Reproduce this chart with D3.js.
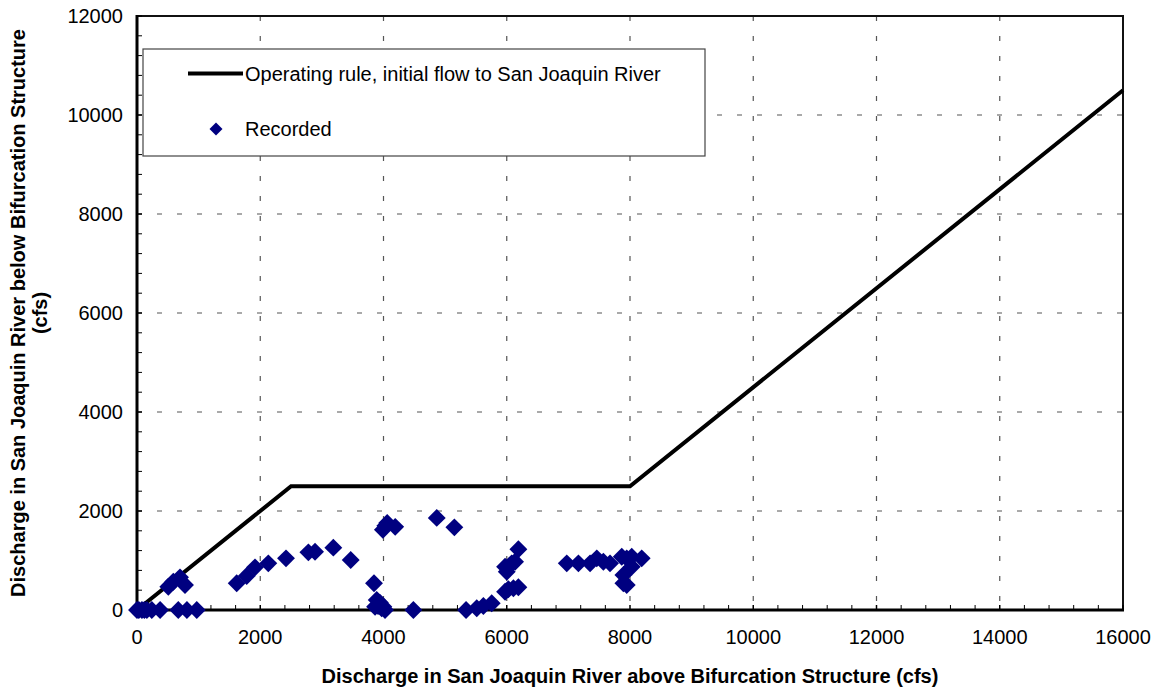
<!DOCTYPE html>
<html lang="en">
<head>
<meta charset="UTF-8">
<script src="https://d3js.org/d3.v7.min.js"></script>
<style>
  body { margin: 0; background: #fff; font-family: Arial, "Liberation Sans", sans-serif; }
</style>
</head>
<body>
<script>
  // Operating rule line (x = flow above, y = flow below bifurcation)
  const ruleX = [0, 2500, 8000, 16000];
  const ruleY = [0, 2500, 2500, 10500];

  // Recorded discharges
  const recX = [0, 80, 160, 240, 375, 670, 810, 970, 30, 120,
    508, 589, 698, 779,
    1618, 1780, 1915, 2131, 2418, 2781, 2889, 3186, 3468,
    3846, 3890, 3998, 3912, 3863, 3971, 4025, 3940,
    3990, 4030, 4060, 4190, 4864, 5150,
    4485, 5340, 5513, 5621, 5756,
    5973, 6026, 6108, 6189, 5973, 6000, 6081, 6135, 6189,
    6974, 7163, 7352, 7461, 7568, 7676,
    7866, 7947, 8028, 8190, 8028, 7893, 7893, 7947];
  const recY = [0, 0, 0, 0, 0, 0, 0, 0, 0, 0,
    471, 572, 660, 505,
    539, 687, 862, 943, 1044, 1165, 1178, 1259, 1010,
    539, 202, 67, 81, 67, 34, 0, 150,
    1620, 1700, 1760, 1680, 1860, 1670,
    0, 0, 34, 81, 135,
    370, 418, 438, 459, 875, 774, 943, 976, 1226,
    943, 943, 943, 1044, 976, 943,
    1077, 1044, 1077, 1044, 875, 707, 539, 505];

  const xTicks = [0, 2000, 4000, 6000, 8000, 10000, 12000, 14000, 16000];
  const yTicks = [0, 2000, 4000, 6000, 8000, 10000, 12000];

  const W = 1160, H = 690;
  const m = { left: 137, right: 1123, top: 16, bottom: 610 };

  const svg = d3.select("body").append("svg")
    .attr("width", W).attr("height", H);

  const x = d3.scaleLinear().domain([0, 16000]).range([m.left, m.right]);
  const y = d3.scaleLinear().domain([0, 12000]).range([m.bottom, m.top]);

  // Dashed grid at major ticks
  svg.append("g").selectAll("line")
    .data(xTicks.slice(1, -1)).join("line")
    .attr("x1", d => x(d)).attr("x2", d => x(d))
    .attr("y1", m.top).attr("y2", m.bottom)
    .attr("stroke", "#555").attr("stroke-width", 1.2)
    .attr("stroke-dasharray", "5,15");
  svg.append("g").selectAll("line")
    .data(yTicks.slice(1, -1)).join("line")
    .attr("x1", m.left).attr("x2", m.right)
    .attr("y1", d => y(d)).attr("y2", d => y(d))
    .attr("stroke", "#555").attr("stroke-width", 1.2)
    .attr("stroke-dasharray", "5,15");

  // Frame top/right
  svg.append("path")
    .attr("d", `M${m.left},${m.top}H${m.right}V${m.bottom}`)
    .attr("fill", "none").attr("stroke", "#111").attr("stroke-width", 2);

  // Minor ticks (inside)
  const xMinor = d3.range(0, 16001, 400);
  const yMinor = d3.range(0, 12001, 400);
  svg.append("g").selectAll("line")
    .data(xMinor).join("line")
    .attr("x1", d => x(d)).attr("x2", d => x(d))
    .attr("y1", m.bottom).attr("y2", m.bottom - 5)
    .attr("stroke", "#000").attr("stroke-width", d => d % 2000 === 0 ? 1.5 : 1);
  svg.append("g").selectAll("line")
    .data(yMinor).join("line")
    .attr("x1", m.left).attr("x2", m.left + 5)
    .attr("y1", d => y(d)).attr("y2", d => y(d))
    .attr("stroke", "#000").attr("stroke-width", d => d % 2000 === 0 ? 1.5 : 1);

  // Axes lines
  svg.append("line").attr("x1", m.left).attr("x2", m.right + 1)
    .attr("y1", m.bottom).attr("y2", m.bottom)
    .attr("stroke", "#000").attr("stroke-width", 3);
  svg.append("line").attr("x1", m.left).attr("x2", m.left)
    .attr("y1", m.top - 1).attr("y2", m.bottom + 1.5)
    .attr("stroke", "#000").attr("stroke-width", 3);

  // Tick labels
  svg.append("g").selectAll("text")
    .data(xTicks).join("text")
    .attr("x", d => x(d)).attr("y", m.bottom + 34)
    .attr("text-anchor", "middle")
    .attr("font-size", 20).attr("fill", "#000")
    .text(d => d);
  svg.append("g").selectAll("text")
    .data(yTicks).join("text")
    .attr("x", m.left - 14).attr("y", d => y(d) + 7)
    .attr("text-anchor", "end")
    .attr("font-size", 20).attr("fill", "#000")
    .text(d => d);

  // Axis titles
  svg.append("text")
    .attr("x", 630).attr("y", 683)
    .attr("text-anchor", "middle")
    .attr("font-size", 20).attr("font-weight", "bold")
    .text("Discharge in San Joaquin River above Bifurcation Structure (cfs)");
  const yt = svg.append("text")
    .attr("transform", `translate(25,${(m.top + m.bottom) / 2}) rotate(-90)`)
    .attr("text-anchor", "middle")
    .attr("font-size", 20).attr("font-weight", "bold");
  yt.append("tspan").attr("x", 0).attr("dy", 0)
    .text("Discharge in San Joaquin River below Bifurcation Structure");
  yt.append("tspan").attr("x", 0).attr("dy", 22).text("(cfs)");

  // Operating rule line
  const ruleData = ruleX.map((d, i) => [d, ruleY[i]]);
  svg.append("path")
    .datum(ruleData)
    .attr("d", d3.line().x(d => x(d[0])).y(d => y(d[1])))
    .attr("fill", "none").attr("stroke", "#000").attr("stroke-width", 4);

  // Recorded points
  const diamond = d3.symbol().type(d3.symbolSquare).size(160);
  svg.append("g").selectAll("path")
    .data(recX.map((d, i) => [d, recY[i]])).join("path")
    .attr("d", diamond)
    .attr("transform", d => `translate(${x(d[0])},${y(d[1])}) rotate(45)`)
    .attr("fill", "#000080");

  // Legend
  const lg = svg.append("g");
  lg.append("rect")
    .attr("x", 143).attr("y", 49).attr("width", 562).attr("height", 107)
    .attr("fill", "#fff").attr("stroke", "#444").attr("stroke-width", 1.2);
  lg.append("line").attr("x1", 188).attr("x2", 243).attr("y1", 73.5).attr("y2", 73.5)
    .attr("stroke", "#000").attr("stroke-width", 4);
  lg.append("text").attr("x", 245).attr("y", 81).attr("font-size", 20)
    .text("Operating rule, initial flow to San Joaquin River");
  lg.append("path")
    .attr("d", d3.symbol().type(d3.symbolSquare).size(85))
    .attr("transform", "translate(216,129) rotate(45)")
    .attr("fill", "#000080");
  lg.append("text").attr("x", 245).attr("y", 136).attr("font-size", 20)
    .text("Recorded");
</script>
</body>
</html>
